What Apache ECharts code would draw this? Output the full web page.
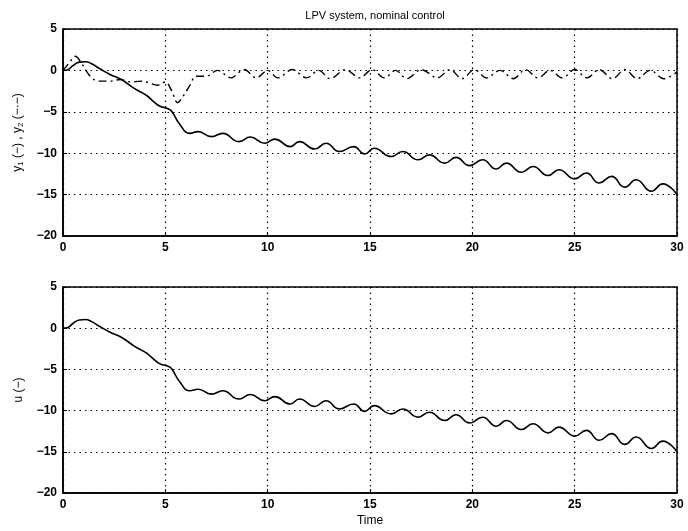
<!DOCTYPE html>
<html>
<head>
<meta charset="utf-8">
<script src="https://cdn.jsdelivr.net/npm/echarts@6/dist/echarts.min.js"></script>
<style>
html,body{margin:0;padding:0;background:#fff;}
#c{width:688px;height:531px;}
</style>
</head>
<body>
<div id="c"></div>
<script>
// ---- data ----
var titleText = 'LPV system, nominal control';
var xTicks = [0, 5, 10, 15, 20, 25, 30];
var yTicks = [-20, -15, -10, -5, 0, 5];

var y1Time = [0, 0.2, 0.5, 0.8, 1.1, 1.4, 1.8, 2.3, 2.85, 3.5, 4.07, 4.4, 4.72, 5.1, 5.3, 5.7, 6.2, 6.6, 7.25, 7.8, 8.6, 9.15, 9.85, 10.35, 11.1, 11.55, 12.3, 12.85, 13.5, 14.2, 14.74, 15.2, 16.04, 16.6, 17.35, 17.9, 18.65, 19.2, 19.87, 20.5, 21.17, 21.66, 22.4, 22.96, 23.7, 24.23, 25.0, 25.57, 26.2, 26.8, 27.45, 28.0, 28.75, 29.3, 30];
var y1Values = [0, 0.05, 0.6, 1.0, 1.05, 0.8, 0.2, -0.5, -1.1, -2.2, -3.0, -3.7, -4.3, -4.6, -4.9, -6.5, -7.6, -7.4, -8.0, -7.6, -8.6, -8.05, -8.8, -8.3, -9.2, -8.6, -9.5, -8.8, -9.8, -9.2, -10.1, -9.4, -10.4, -9.8, -10.8, -10.2, -11.2, -10.5, -11.5, -10.8, -11.9, -11.2, -12.3, -11.6, -12.7, -12.0, -13.1, -12.4, -13.6, -12.8, -14.1, -13.2, -14.6, -13.7, -15.0];

var y2Time = [0, 0.3, 0.6, 0.9, 1.2, 1.5, 1.8, 2.3, 2.8, 3.3, 3.8, 4.2, 4.6, 5.0, 5.3, 5.6, 5.9, 6.2, 6.5, 7.0, 7.55, 8.2, 8.85, 9.45, 10.0, 10.5, 11.2, 11.9, 12.5, 13.05, 13.8, 14.5, 15.1, 15.7, 16.25, 16.8, 17.5, 18.3, 18.9, 19.5, 20.1, 20.7, 21.35, 22.0, 22.6, 23.2, 23.8, 24.4, 25.0, 25.6, 26.2, 26.85, 27.45, 28.05, 28.7, 29.35, 30];
var y2Values = [0, 0.9, 1.7, 0.9, -0.3, -1.1, -1.3, -1.3, -1.1, -1.4, -1.3, -1.5, -1.8, -1.4, -2.4, -3.9, -3.0, -1.8, -0.7, -0.7, 0.0, -0.9, 0.1, -0.9, 0.0, -0.9, 0.1, -0.9, 0.0, -1.0, 0.1, -0.9, 0.1, -0.9, 0.0, -1.0, 0.1, -0.9, 0.1, -1.0, 0.1, -0.9, 0.0, -1.0, 0.1, -0.9, 0.0, -0.9, 0.1, -0.9, 0.1, -1.0, 0.1, -1.0, 0.0, -1.0, -0.2];

// control input u appears identical to y1
var uTime = y1Time;
var uValues = y1Values;

function pairs(t, v) { return t.map(function (x, i) { return [x, v[i]]; }); }

var FONT = 'Liberation Sans, Arial, Helvetica, sans-serif';
function fmt(v) { return String(v).replace('-', '\u2212'); }

function xAxis(gi, name) {
  return {
    type: 'value', gridIndex: gi, min: xTicks[0], max: xTicks[xTicks.length - 1], interval: 5,
    name: name || '', nameLocation: 'middle', nameGap: 22,
    nameTextStyle: { color: '#000', fontSize: 12, fontFamily: FONT },
    axisLine: { show: true, onZero: false, lineStyle: { color: '#000', width: 1.5 } },
    axisTick: { show: true, inside: true, length: 4, lineStyle: { color: '#000' } },
    axisLabel: { color: '#000', fontSize: 12, fontWeight: 'bold', fontFamily: FONT, margin: 6, formatter: fmt },
    splitLine: { show: true, lineStyle: { color: '#000', type: [1.5, 4], width: 1.2 } }
  };
}
function yAxis(gi, name) {
  return {
    type: 'value', gridIndex: gi, min: yTicks[0], max: yTicks[yTicks.length - 1], interval: 5,
    name: name, nameLocation: 'middle', nameGap: 38, nameRotate: 90,
    nameTextStyle: {
      color: '#000', fontSize: 12, fontFamily: FONT,
      rich: {
        n: { fontSize: 12, fontFamily: FONT, color: '#000' },
        s: { fontSize: 8, fontFamily: FONT, color: '#000', padding: [6, 0, 0, 0] }
      }
    },
    axisLine: { show: true, onZero: false, lineStyle: { color: '#000', width: 1.5 } },
    axisTick: { show: true, inside: true, length: 4, lineStyle: { color: '#000' } },
    axisLabel: { color: '#000', fontSize: 12, fontWeight: 'bold', fontFamily: FONT, margin: 6, formatter: fmt },
    splitLine: { show: true, lineStyle: { color: '#000', type: [1.5, 4], width: 1.2 } }
  };
}

var chart = echarts.init(document.getElementById('c'), null, { renderer: 'canvas' });
chart.setOption({
  backgroundColor: '#fff',
  animation: false,
  title: {
    text: titleText, left: 370, top: 5, textAlign: 'center',
    textStyle: { fontSize: 11, fontWeight: 'normal', color: '#000', fontFamily: FONT }
  },
  grid: [
    { left: 63, top: 29, width: 614, height: 207, show: true, borderColor: '#000', borderWidth: 1.5, backgroundColor: 'transparent' },
    { left: 63, top: 287, width: 614, height: 206, show: true, borderColor: '#000', borderWidth: 1.5, backgroundColor: 'transparent' }
  ],
  xAxis: [xAxis(0), xAxis(1, 'Time')],
  yAxis: [
    yAxis(0, '{n|y}{s|1}{n| (\u2212) , y}{s|2}{n| (\u2212\u00b7\u2212)}'),
    yAxis(1, '{n|u (\u2212)}')
  ],
  series: [
    { type: 'line', xAxisIndex: 0, yAxisIndex: 0, data: pairs(y1Time, y1Values), smooth: 0.5, showSymbol: false,
      lineStyle: { color: '#000', width: 1.6 } },
    { type: 'line', xAxisIndex: 0, yAxisIndex: 0, data: pairs(y2Time, y2Values), smooth: 0.35, showSymbol: false,
      lineStyle: { color: '#000', width: 1.4, type: [8, 4, 2, 4] } },
    { type: 'line', xAxisIndex: 1, yAxisIndex: 1, data: pairs(uTime, uValues), smooth: 0.5, showSymbol: false,
      lineStyle: { color: '#000', width: 1.6 } }
  ]
});
</script>
</body>
</html>
